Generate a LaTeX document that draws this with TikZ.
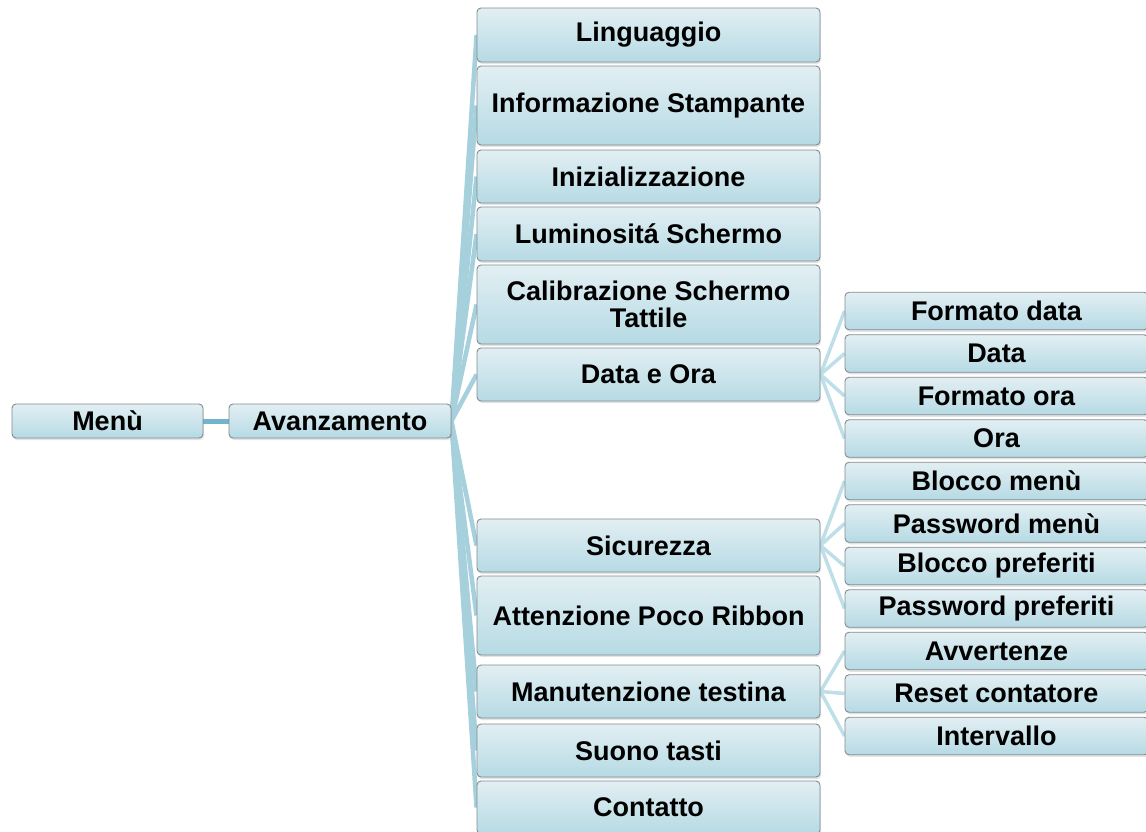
\documentclass[tikz,border=0pt]{standalone}
\usepackage{fontspec}
\setmainfont{Liberation Sans}
\usetikzlibrary{shadows,backgrounds}
\definecolor{BoxTop}{HTML}{E2EFF3}
\definecolor{BoxBottom}{HTML}{B6DAE4}
\definecolor{BoxEdge}{HTML}{808C90}
\definecolor{RootLink}{HTML}{72B4CC}
\definecolor{FanLink}{HTML}{A6D0DC}
\definecolor{LeafLink}{HTML}{BEDFE8}
\tikzset{
  menu/.style={x=1pt,y=-1pt,font=\fontsize{27}{29}\selectfont\bfseries},
  item/.style={draw=BoxEdge,line width=0.9pt,rounded corners=4pt,top color=BoxTop,bottom color=BoxBottom,
    inner sep=0pt,align=center,drop shadow={opacity=0.22,shadow xshift=1pt,shadow yshift=-2pt}},
  mid/.style={item,minimum width=343pt},
  leaf/.style={item,minimum width=303pt,minimum height=37.5pt},
  rootlink/.style={draw=RootLink,line width=5pt},
  fan/.style={draw=FanLink,line width=4.5pt},
  leaflink/.style={draw=LeafLink,line width=3.5pt},
}
\begin{document}
\begin{tikzpicture}[menu]
  \useasboundingbox (0,0) rectangle (1146,831);
  \clip (0,0) rectangle (1146,831);

  % left part
  \node[item,minimum width=191pt,minimum height=34pt] (menu) at (107.5,421) {Menù};
  \node[item,minimum width=222pt,minimum height=34pt] (avan) at (340,421) {Avanzamento};

  % middle column
  \node[mid,minimum height=54pt] (ling) at (648.5,35) {Linguaggio};
  \node[mid,minimum height=79pt] (info) at (648.5,105.5) {Informazione Stampante};
  \node[mid,minimum height=53pt] (iniz) at (648.5,176.5) {Inizializzazione};
  \node[mid,minimum height=54pt] (lumi) at (648.5,234) {Luminositá Schermo};
  \node[mid,minimum height=79pt] (cali) at (648.5,304.5) {Calibrazione Schermo\\[-2pt]Tattile};
  \node[mid,minimum height=53pt] (data) at (648.5,374.5) {Data e Ora};
  \node[mid,minimum height=53pt] (sicu) at (648.5,545.5) {Sicurezza};
  \node[mid,minimum height=79pt] (ribb) at (648.5,615.5) {Attenzione Poco Ribbon};
  \node[mid,minimum height=53pt] (manu) at (648.5,691.5) {Manutenzione testina};
  \node[mid,minimum height=53pt] (suon) at (648.5,750.5) {Suono tasti};
  \node[mid,minimum height=53pt] (cont) at (648.5,807.5) {Contatto};

  % right column
  \node[leaf] (fdat) at (996.5,311) {Formato data};
  \node[leaf] (dat) at (996.5,353.5) {Data};
  \node[leaf] (fora) at (996.5,396) {Formato ora};
  \node[leaf] (ora) at (996.5,438.5) {Ora};
  \node[leaf] (bmen) at (996.5,481) {Blocco menù};
  \node[leaf] (pmen) at (996.5,523.5) {Password menù};
  \node[leaf] (bpre) at (996.5,566) {Blocco preferiti};
  \node[leaf] (ppre) at (996.5,608.5) {Password preferiti};
  \node[leaf] (avve) at (996.5,651) {Avvertenze};
  \node[leaf] (rese) at (996.5,693.5) {Reset contatore};
  \node[leaf] (inte) at (996.5,736) {Intervallo};

  % connectors
  \begin{scope}[on background layer]
    \draw[rootlink] (menu.east) -- (avan.west);
    \foreach \n in {ling,info,iniz,lumi,cali,data,sicu,ribb,manu,suon,cont}
      \draw[fan] (avan.east) -- (\n.west);
    \foreach \n in {fdat,dat,fora,ora}
      \draw[leaflink] (data.east) -- (\n.west);
    \foreach \n in {bmen,pmen,bpre,ppre}
      \draw[leaflink] (sicu.east) -- (\n.west);
    \foreach \n in {avve,rese,inte}
      \draw[leaflink] (manu.east) -- (\n.west);
  \end{scope}
\end{tikzpicture}
\end{document}
